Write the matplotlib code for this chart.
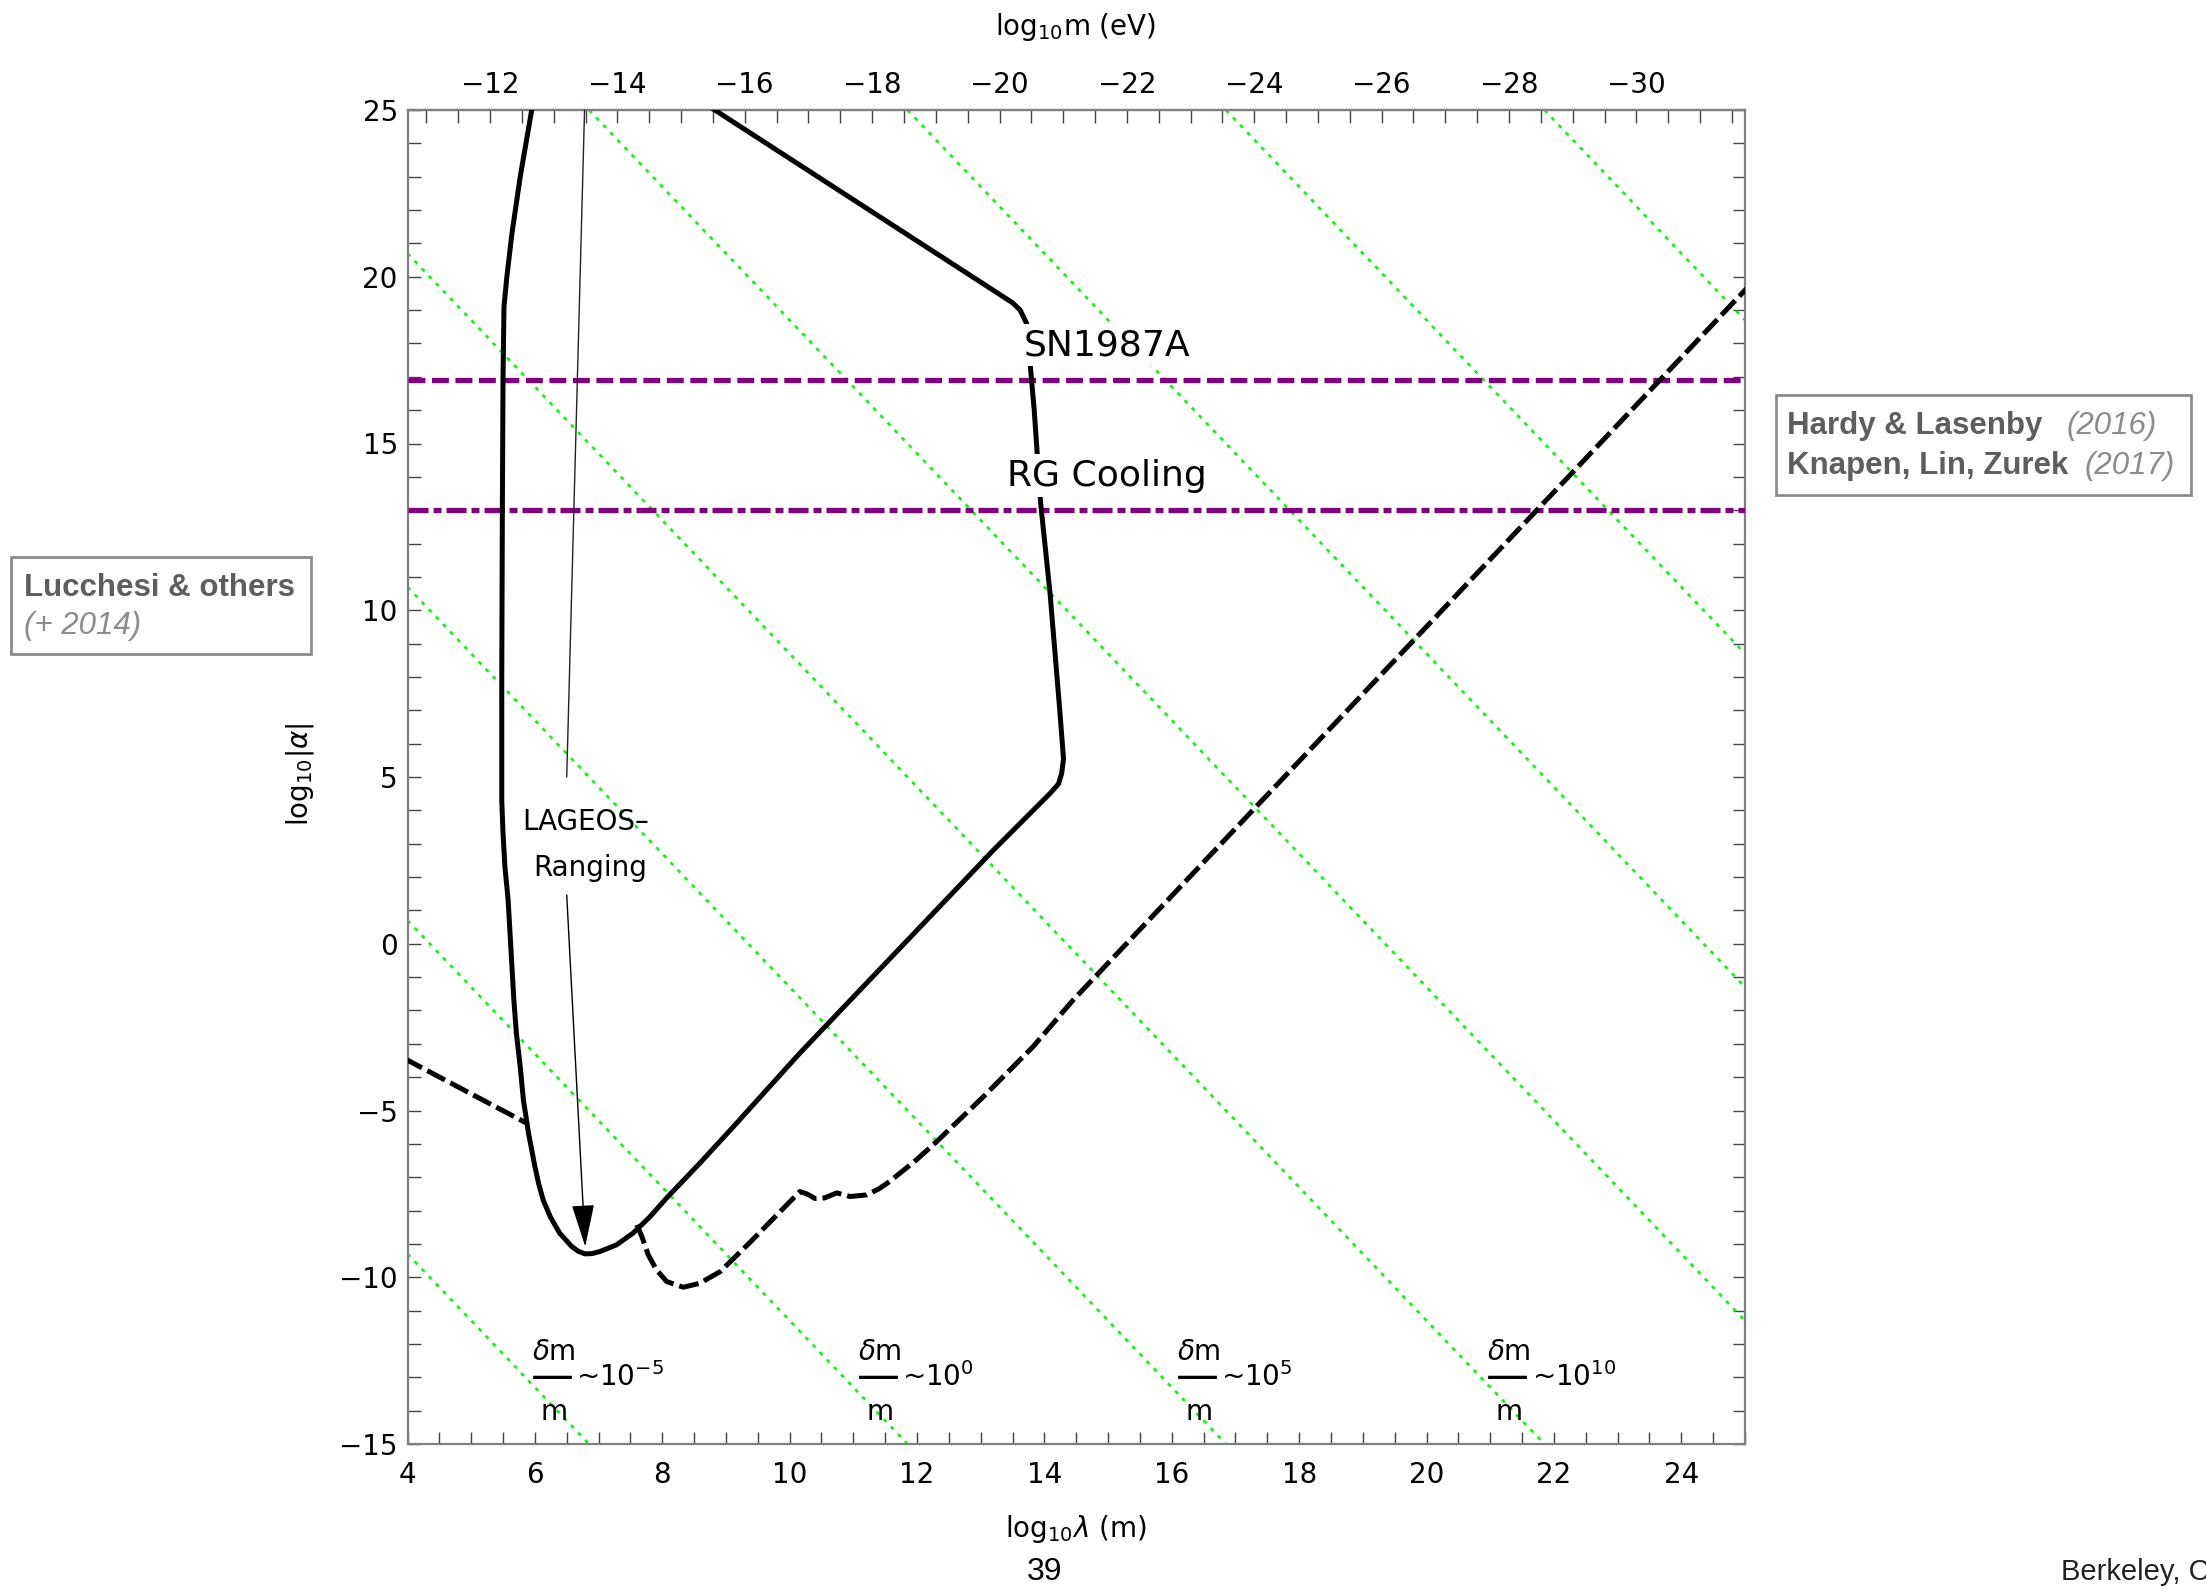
#!/usr/bin/env python3
"""
Fifth-force / ultralight mediator bounds: log10|alpha| vs log10 lambda,
with the mass scale on the top axis.
"""

import matplotlib
matplotlib.use('Agg')
import matplotlib.pyplot as plt
import matplotlib.patches as patches
from matplotlib.ticker import MultipleLocator

# ---- data ----
# solid contour: SN1987A diagonal -> right branch -> LAGEOS bottom -> left branch
solid_lam = [8.42, 13.50, 13.62, 13.72, 13.84, 13.94, 14.09, 14.24, 14.30, 14.27,
             14.22, 14.09, 13.20, 10.16, 9.11, 8.59, 8.07, 7.80, 7.54, 7.28,
             7.02, 6.90, 6.79, 6.68, 6.58, 6.39, 6.24, 6.13, 6.06, 6.00,
             5.95, 5.90, 5.86, 5.82, 5.77, 5.71, 5.67, 5.64, 5.61, 5.58,
             5.53, 5.50, 5.48, 5.48, 5.49, 5.50, 5.515, 5.56, 5.64, 5.77,
             5.95, 5.99]
solid_alpha = [25.5, 19.22, 19.0, 18.6, 16.0, 13.23, 10.48, 7.03, 5.54, 5.10,
               4.79, 4.51, 2.81, -3.28, -5.50, -6.58, -7.62, -8.20, -8.68, -9.03,
               -9.23, -9.29, -9.30, -9.22, -9.08, -8.68, -8.18, -7.68, -7.20, -6.68,
               -6.18, -5.68, -5.18, -4.69, -3.69, -2.69, -1.69, -0.69, 0.31, 1.31,
               2.30, 3.30, 4.30, 8.0, 13.3, 17.0, 19.1, 20.0, 21.3, 23.0,
               25.0, 25.5]

# dashed bound, short piece on the left
dash_left_lam = [3.95, 5.87]
dash_left_alpha = [-3.44, -5.38]

# dashed bound, main piece
dash_lam = [7.60, 7.68, 7.78, 7.91, 8.07, 8.33, 8.59, 8.91, 9.38, 10.16,
            10.27, 10.40, 10.55, 10.74, 10.95, 11.21, 11.40, 11.57, 11.99, 12.31,
            13.04, 13.82, 14.45, 25.2]
dash_alpha = [-8.43, -8.78, -9.33, -9.78, -10.13, -10.30, -10.18, -9.83, -8.95, -7.43,
              -7.50, -7.64, -7.62, -7.47, -7.58, -7.53, -7.35, -7.13, -6.48, -5.93,
              -4.59, -3.09, -1.69, 20.0]

sn_alpha = 16.9      # SN1987A (dashed purple)
rg_alpha = 13.0      # RG cooling (dash-dot purple)

# dotted green lines of constant dm/m: alpha = c - 2*lambda
green_intercepts = [-1.3, 8.7, 18.7, 28.7, 38.7, 48.7, 58.7, 68.7]
green_slope = -2

dm_label_lam = [5.95, 11.07, 16.08, 20.95]
dm_label_exp = ['-5', '0', '5', '10']

x_major = [4, 6, 8, 10, 12, 14, 16, 18, 20, 22, 24]
y_major = [-15, -10, -5, 0, 5, 10, 15, 20, 25]
m_major = [-12, -14, -16, -18, -20, -22, -24, -26, -28, -30]
LOG_HBARC = -6.705   # log10(hbar c / eV m)

# LAGEOS leader line
lageos_top = (6.78, 25.0)
lageos_break = ((6.50, 5.0), (6.50, 1.46))
lageos_tip = (6.79, -9.08)

W, H = 2206, 1590
GRAY = '#808080'
TXT = '#5e5e5e'
YEAR = '#8c8c8c'


def fx(px):
    return px / W


def fy(py):
    return 1 - py / H


def main():
    fig = plt.figure(figsize=(W / 100, H / 100), dpi=100)
    ax = fig.add_axes([fx(407.5), fy(1444), 1337.5 / W, 1334 / H])

    ax.set_xlim(4, 25)
    ax.set_ylim(-15, 25)

    # green dotted dm/m lines
    for c in green_intercepts:
        ax.axline((0, c), slope=green_slope, color='#00ff00', lw=1.9,
                  ls=(0, (1.5, 2.4)), zorder=2)

    # purple astrophysical bounds
    ax.axhline(sn_alpha, color='#800080', lw=3.8, ls=(0, (3.2, 1.25)), zorder=3)
    ax.axhline(rg_alpha, color='#800080', lw=3.8,
               ls=(0, (3.8, 0.95, 1.5, 0.95)), zorder=3)

    # black curves
    ax.plot(solid_lam, solid_alpha, color='black', lw=3.6,
            solid_joinstyle='round', zorder=4)
    dash_style = (0, (4.0, 1.2))
    ax.plot(dash_left_lam, dash_left_alpha, color='black', lw=3.6,
            ls=dash_style, zorder=4)
    ax.plot(dash_lam, dash_alpha, color='black', lw=3.6, ls=dash_style,
            dash_joinstyle='round', zorder=4)

    # labels on the curves
    box = dict(facecolor='white', edgecolor='none', pad=3)
    ax.text(14.98, 17.95, 'SN1987A', fontsize=26, ha='center', va='center',
            bbox=box, zorder=6)
    ax.text(14.98, 14.04, 'RG Cooling', fontsize=26, ha='center', va='center',
            bbox=box, zorder=6)

    # LAGEOS leader
    ax.annotate('', xy=lageos_break[0], xytext=lageos_top,
                arrowprops=dict(arrowstyle='-', lw=1.0, color='#222222',
                                shrinkA=0, shrinkB=0), zorder=5)
    ax.annotate('', xy=lageos_tip, xytext=lageos_break[1],
                arrowprops=dict(arrowstyle='-|>,head_length=1.35,head_width=0.36',
                                mutation_scale=20, lw=1.0, color='black',
                                shrinkA=0, shrinkB=0), zorder=5)
    ax.text(6.80, 3.66, 'LAGEOS\u2013', fontsize=20, ha='center', va='center', zorder=6)
    ax.text(6.87, 2.26, 'Ranging', fontsize=20, ha='center', va='center', zorder=6)

    # dm/m labels
    for lam, e in zip(dm_label_lam, dm_label_exp):
        ax.text(lam + 0.35, -12.23, '$\\delta$m', fontsize=20, ha='center',
                va='center', zorder=6)
        ax.text(lam + 0.35, -14.03, 'm', fontsize=20, ha='center',
                va='center', zorder=6)
        ax.text(lam - 0.02, -13.0, '\u2014', fontsize=31, ha='left',
                va='center', zorder=6)
        ax.text(lam + 0.70, -13.0, '~10$^{%s}$' % e, fontsize=20, ha='left',
                va='center', zorder=6)

    # ticks and frame
    ax.set_xticks(x_major)
    ax.set_yticks(y_major)
    ax.xaxis.set_minor_locator(MultipleLocator(0.5))
    ax.yaxis.set_minor_locator(MultipleLocator(1))
    for which in ('major', 'minor'):
        ax.tick_params(axis='both', which=which, direction='in', length=9,
                       width=1.0, color='#444444', top=False, right=True)
    ax.tick_params(axis='x', which='major', labelsize=20, pad=12)
    ax.tick_params(axis='y', which='major', labelsize=20, pad=7)
    for sp in ax.spines.values():
        sp.set_color(GRAY)
        sp.set_linewidth(1.6)

    secax = ax.secondary_xaxis('top', functions=(lambda x: LOG_HBARC - x,
                                                 lambda m: LOG_HBARC - m))
    secax.set_xticks(m_major)
    secax.xaxis.set_minor_locator(MultipleLocator(0.5))
    secax.tick_params(which='both', direction='in', length=9, width=1.0,
                      color='#444444')
    secax.tick_params(which='major', labelsize=20, pad=8)
    secax.spines['top'].set_color(GRAY)
    secax.spines['top'].set_linewidth(1.6)

    # axis labels
    fig.text(fx(1076), fy(1529), 'log$_{10}$$\\lambda$ (m)', fontsize=20,
             ha='center', va='center')
    fig.text(fx(1076), fy(27), 'log$_{10}$m (eV)', fontsize=20,
             ha='center', va='center')
    fig.text(fx(300), fy(774), 'log$_{10}$|$\\alpha$|', fontsize=20,
             ha='center', va='center', rotation=90)

    # side boxes
    sans = 'Liberation Sans'
    fig.patches.append(patches.Rectangle((fx(1776), fy(495)), 415 / W, 100 / H,
                                         transform=fig.transFigure, fill=False,
                                         edgecolor=YEAR, linewidth=2.0))
    fig.text(fx(1787), fy(426), 'Hardy & Lasenby', family=sans, fontsize=22.5,
             fontweight='bold', color=TXT, va='center')
    fig.text(fx(2067), fy(426), '(2016)', family=sans, fontsize=22.5,
             style='italic', color=YEAR, va='center')
    fig.text(fx(1787), fy(466), 'Knapen, Lin, Zurek', family=sans, fontsize=22.5,
             fontweight='bold', color=TXT, va='center')
    fig.text(fx(2085), fy(466), '(2017)', family=sans, fontsize=22.5,
             style='italic', color=YEAR, va='center')

    fig.patches.append(patches.Rectangle((fx(11), fy(654)), 300 / W, 97 / H,
                                         transform=fig.transFigure, fill=False,
                                         edgecolor=YEAR, linewidth=2.0))
    fig.text(fx(24), fy(588), 'Lucchesi & others', family=sans, fontsize=22.5,
             fontweight='bold', color=TXT, va='center')
    fig.text(fx(24), fy(626), '(+ 2014)', family=sans, fontsize=22.5,
             style='italic', color=YEAR, va='center')

    # slide footer (runs off the right edge, as on the slide)
    fig.text(fx(1045), fy(1572), '39', family=sans, fontsize=23,
             ha='center', va='center')
    fig.text(fx(2061), fy(1572), 'Berkeley, CA', family=sans, fontsize=21,
             ha='left', va='center', color='#222222')

    fig.savefig('out.png', dpi=100)


if __name__ == '__main__':
    main()
